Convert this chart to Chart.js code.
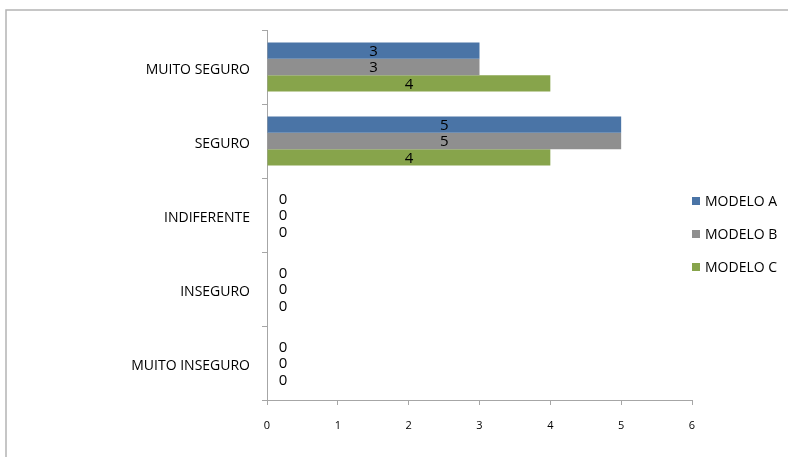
<!DOCTYPE html>
<html>
<head>
<meta charset="utf-8">
<script src="https://cdn.jsdelivr.net/npm/chart.js@4/dist/chart.umd.min.js"></script>
<style>
  html, body { margin: 0; padding: 0; background: #fff; }
  #wrap { width: 788px; height: 457px; position: relative; }
</style>
</head>
<body>
<div id="wrap"><canvas id="c" width="788" height="457"></canvas></div>
<script>
const categories = ['MUITO SEGURO', 'SEGURO', 'INDIFERENTE', 'INSEGURO', 'MUITO INSEGURO'];
const seriesNames = ['MODELO A', 'MODELO B', 'MODELO C'];
const modeloA = [3, 5, 0, 0, 0];
const modeloB = [3, 5, 0, 0, 0];
const modeloC = [4, 4, 0, 0, 0];
const xTicks = [0, 1, 2, 3, 4, 5, 6];

const colors = ['#4a74a6', '#8f8f8f', '#87a44b'];
const FONT = '"Open Sans", "Liberation Sans", sans-serif';
const AXIS = '#a6a6a6';

// Frame around the whole chart
const framePlugin = {
  id: 'frame',
  beforeDraw(chart) {
    const ctx = chart.ctx;
    ctx.save();
    ctx.strokeStyle = '#b4b4b4';
    ctx.lineWidth = 1.5;
    ctx.strokeRect(6, 10, 900, 600);
    ctx.restore();
  }
};

// Value labels: centred on the bar, or just right of the axis when zero
const valueLabels = {
  id: 'valueLabels',
  afterDatasetsDraw(chart) {
    const ctx = chart.ctx;
    ctx.save();
    ctx.font = '15px ' + FONT;
    ctx.fillStyle = '#000';
    ctx.textBaseline = 'middle';
    ctx.textAlign = 'center';
    chart.data.datasets.forEach((ds, di) => {
      chart.getDatasetMeta(di).data.forEach((bar, i) => {
        const v = ds.data[i];
        const x = v === 0 ? bar.base + 16 : (bar.base + bar.x) / 2;
        ctx.fillText(String(v), x, bar.y + 1);
      });
    });
    ctx.restore();
  }
};

// Legend drawn at the right, beside the plot
const sideLegend = {
  id: 'sideLegend',
  afterDraw(chart) {
    const ctx = chart.ctx;
    ctx.save();
    ctx.font = '14px ' + FONT;
    ctx.textBaseline = 'middle';
    ctx.textAlign = 'left';
    chart.data.datasets.forEach((ds, i) => {
      const y = 201 + i * 33;
      ctx.fillStyle = ds.backgroundColor;
      ctx.fillRect(692, y - 4, 8, 8);
      ctx.fillStyle = '#000';
      ctx.fillText(ds.label, 705, y + 1);
    });
    ctx.restore();
  }
};

new Chart(document.getElementById('c'), {
  type: 'bar',
  data: {
    labels: categories,
    datasets: [
      { label: seriesNames[0], data: modeloA, backgroundColor: colors[0] },
      { label: seriesNames[1], data: modeloB, backgroundColor: colors[1] },
      { label: seriesNames[2], data: modeloC, backgroundColor: colors[2] }
    ]
  },
  options: {
    indexAxis: 'y',
    responsive: false,
    animation: false,
    layout: { padding: { left: 0, top: 30, right: 96, bottom: 0 } },
    datasets: { bar: { categoryPercentage: 0.66, barPercentage: 1.0 } },
    plugins: { legend: { display: false }, tooltip: { enabled: false } },
    scales: {
      x: {
        min: 0, max: 6,
        afterBuildTicks(s) { s.ticks = xTicks.map(v => ({ value: v })); },
        afterFit(s) { s.height = 57; },
        grid: { display: true, drawOnChartArea: false, tickLength: 5, color: AXIS },
        border: { color: AXIS },
        ticks: { font: { size: 11, family: FONT }, color: '#000', padding: 14 }
      },
      y: {
        afterFit(s) { s.width = 267; },
        grid: { display: true, drawOnChartArea: false, offset: true, tickLength: 5, color: AXIS },
        border: { color: AXIS },
        ticks: { font: { size: 14, family: FONT }, color: '#000', padding: 12, labelOffset: 3 }
      }
    }
  },
  plugins: [framePlugin, valueLabels, sideLegend]
});
</script>
</body>
</html>
